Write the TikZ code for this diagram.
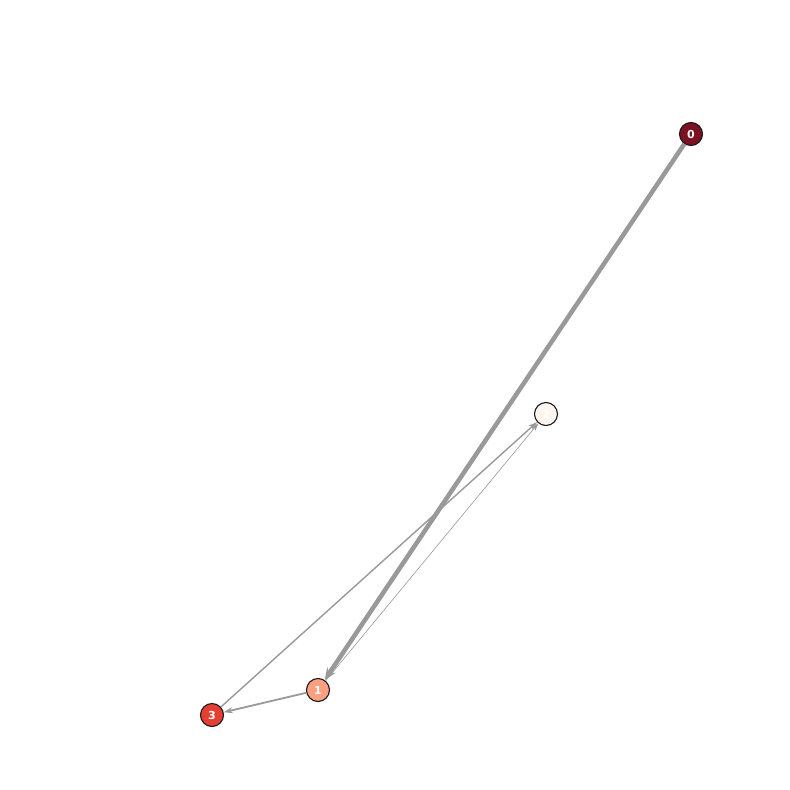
\documentclass[tikz,border=0pt]{standalone}
\usepackage{fontspec}
\setsansfont{DejaVu Sans}
\usetikzlibrary{arrows.meta}
\definecolor{cA}{HTML}{7A1222}
\definecolor{cB}{HTML}{FCA082}
\definecolor{cC}{HTML}{FFF5F0}
\definecolor{cD}{HTML}{E43F33}
\definecolor{edgec}{HTML}{999999}
\begin{document}
\begin{tikzpicture}[x=1pt,y=-1pt,
  vert/.style={circle,draw=black!90,line width=1.1pt,minimum size=23pt,inner sep=0pt,
    font=\sffamily\bfseries\fontsize{11}{11}\selectfont,text=white},
  edge/.style={draw=edgec,-{Stealth[length=9pt,width=6pt]}}]
\useasboundingbox (0,0) rectangle (790,790);
\fill[white] (0,0) rectangle (790,790);
\node[vert,fill=cA] (n0) at (691,134) {0};
\node[vert,fill=cB] (n1) at (318,690) {1};
\node[vert,fill=cC] (n2) at (546,414) {2};
\node[vert,fill=cD] (n3) at (212,715) {3};
\draw[edge,line width=4.5pt,-{Stealth[length=12pt,width=10pt]}] (n0) -- (n1);
\draw[edge,line width=0.6pt,-{Stealth[length=8pt,width=5pt]}] (n1) -- (n2);
\draw[edge,line width=1.4pt] (n3) -- (n2);
\draw[edge,line width=1.8pt] (n1) -- (n3);
\end{tikzpicture}
\end{document}
